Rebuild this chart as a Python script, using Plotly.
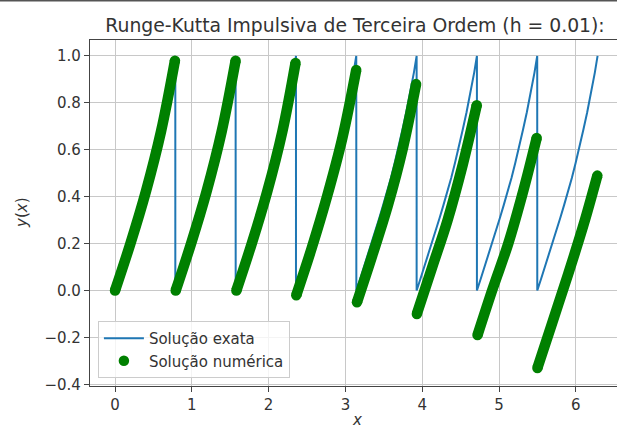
import plotly.graph_objects as go

# ---- data ----
# reset points (impulses) of the exact solution
resets = [0.0, 0.785, 1.571, 2.356, 3.142, 3.927, 4.712, 5.498, 6.283]
# shape of one exact-solution tooth: offset from reset -> y
exact_offsets = [0.0, 0.05, 0.10, 0.15, 0.20, 0.25, 0.30, 0.35, 0.40,
                 0.45, 0.50, 0.55, 0.60, 0.65, 0.70, 0.75, 0.785]
exact_values = [0.0, 0.05, 0.10, 0.15, 0.20, 0.255, 0.31, 0.365, 0.42,
                0.48, 0.545, 0.61, 0.685, 0.76, 0.84, 0.93, 1.0]

# numerical solution: per segment, x knots start..end and y at those knots
num_x_start = [0.00, 0.79, 1.58, 2.36, 3.15, 3.93, 4.72, 5.50]
num_x_end = [0.78, 1.57, 2.35, 3.14, 3.92, 4.71, 5.49, 6.28]
num_t = [0.0, 0.2, 0.4, 0.6]  # offsets from segment start (plus the end point)
num_y = [
    [0.00, 0.20, 0.42, 0.68, 0.98],
    [0.00, 0.20, 0.42, 0.68, 0.98],
    [0.00, 0.20, 0.42, 0.68, 0.97],
    [-0.02, 0.18, 0.40, 0.65, 0.94],
    [-0.05, 0.15, 0.36, 0.61, 0.88],
    [-0.10, 0.10, 0.30, 0.54, 0.79],
    [-0.19, 0.01, 0.20, 0.43, 0.65],
    [-0.33, -0.13, 0.07, 0.28, 0.49],
]

x_ticks = [0, 1, 2, 3, 4, 5, 6]
x_ticklabels = ["0", "1", "2", "3", "4", "5", "6"]
y_ticks = [-0.4, -0.2, 0.0, 0.2, 0.4, 0.6, 0.8, 1.0]
y_ticklabels = ["\u22120.4", "\u22120.2", "0.0", "0.2", "0.4", "0.6", "0.8", "1.0"]

title_text = "Runge-Kutta Impulsiva de Terceira Ordem (h = 0.01):"

# ---- build figure ----
FONT = "DejaVu Sans"
TXT = "#333333"
SPINE = "#444444"
BLUE = "#1f77b4"
GREEN = "#008000"

ex_x, ex_y = [], []
for k in range(len(resets) - 1):
    for o, v in zip(exact_offsets, exact_values):
        ex_x.append(resets[k] + o)
        ex_y.append(v)

fig = go.Figure()
fig.add_trace(go.Scatter(x=ex_x, y=ex_y, mode="lines", name="Solução exata",
                         line=dict(color=BLUE, width=2), showlegend=True))

end_x, end_y = [], []
for k in range(len(num_x_start)):
    xs = [num_x_start[k] + t for t in num_t] + [num_x_end[k]]
    ys = num_y[k]
    fig.add_trace(go.Scatter(x=xs, y=ys, mode="lines", showlegend=False,
                             line=dict(color=GREEN, width=10.5, shape="spline"),
                             hoverinfo="skip"))
    end_x += [xs[0], xs[-1]]
    end_y += [ys[0], ys[-1]]

fig.add_trace(go.Scatter(x=end_x, y=end_y, mode="markers", name="Solução numérica",
                         marker=dict(color=GREEN, size=10.5, line=dict(width=0))))

axis_common = dict(
    showline=True, linecolor=SPINE, linewidth=1.3,
    ticks="outside", ticklen=5, tickwidth=1.2, tickcolor=SPINE,
    showgrid=True, gridcolor="#c8c8c8", gridwidth=1,
    zeroline=False, tickfont=dict(family=FONT, size=15, color=TXT),
)

fig.update_layout(
    width=617, height=430,
    margin=dict(l=90, r=0, t=40, b=44),
    paper_bgcolor="white", plot_bgcolor="white",
    font=dict(family=FONT, color=TXT),
    title=dict(text=title_text, font=dict(family=FONT, size=18.8, color=TXT),
               x=(355 - 90) / 527, xref="paper", xanchor="center",
               y=1 - 25 / 430, yref="container", yanchor="middle"),
    xaxis=dict(range=[-0.326, 6.536], tickvals=x_ticks, ticktext=x_ticklabels,
               mirror=True, **axis_common),
    yaxis=dict(range=[-0.407, 1.068], tickvals=y_ticks, ticktext=y_ticklabels,
               mirror=False, **axis_common),
    legend=dict(x=0.015, y=0.023, xanchor="left", yanchor="bottom",
                bgcolor="rgba(255,255,255,0.8)", bordercolor="#cccccc", borderwidth=1,
                font=dict(family=FONT, size=15, color=TXT), itemwidth=40,
                traceorder="normal"),
    annotations=[
        dict(text="<i>y</i>(<i>x</i>)", xref="paper", yref="paper",
             x=(22 - 90) / 527, y=0.5, xanchor="center", yanchor="middle",
             textangle=-90, showarrow=False, font=dict(family=FONT, size=15, color=TXT)),
        dict(text="<i>x</i>", xref="paper", yref="paper",
             x=(357 - 90) / 527, y=(386 - 420) / 346, xanchor="center", yanchor="middle",
             showarrow=False, font=dict(family=FONT, size=15, color=TXT)),
    ],
    shapes=[
        dict(type="rect", xref="paper", yref="paper",
             x0=-0.2, x1=1.01, y0=(386 - 1.5) / 346, y1=(386 + 2) / 346,
             fillcolor="#555555", line=dict(width=0)),
    ],
)

fig.write_html("out.html")
